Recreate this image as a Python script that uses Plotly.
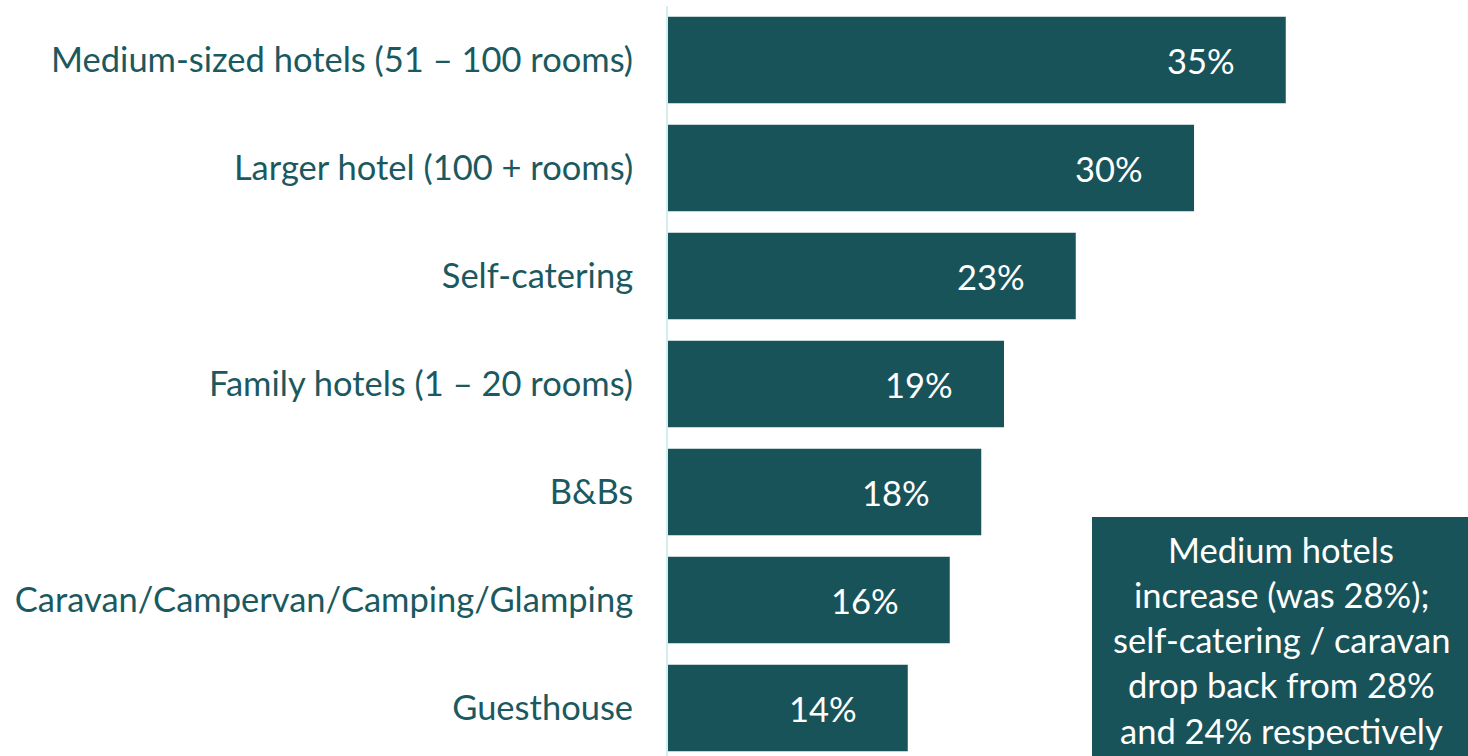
import plotly.graph_objects as go

categories = [
    "Medium-sized hotels (51 – 100 rooms)",
    "Larger hotel (100 + rooms)",
    "Self-catering",
    "Family hotels (1 – 20 rooms)",
    "B&Bs",
    "Caravan/Campervan/Camping/Glamping",
    "Guesthouse",
]
values = [35.3, 30.06, 23.3, 19.2, 17.9, 16.1, 13.7]
value_labels = ["35%", "30%", "23%", "19%", "18%", "16%", "14%"]
note_lines = [
    "Medium hotels",
    "increase (was 28%);",
    "self-catering / caravan",
    "drop back from 28%",
    "and 24% respectively",
]

BAR = "#19535A"
TEXT = "#1B5961"
FONT = "Lato"
FS = 34.5
W, H = 1468, 756
ML, MT = 668, 6
PW, PH = W - ML, H - MT

fig = go.Figure()
fig.add_trace(go.Bar(
    x=values, y=categories, orientation="h",
    marker=dict(color=BAR, line=dict(width=0)),
    hoverinfo="skip",
))

for v, c, t in zip(values, categories, value_labels):
    fig.add_annotation(x=v, y=c, xref="x", yref="y", text=t, showarrow=False,
                       xanchor="center", yanchor="middle", xshift=-85,
                       font=dict(family=FONT, size=FS, color="white"))

# note box
fig.add_shape(type="rect", xref="paper", yref="paper",
              x0=(1092 - ML) / PW, x1=1.0, y0=-0.01, y1=(H - 517) / PH,
              fillcolor=BAR, line=dict(width=0), layer="above")
for i, line in enumerate(note_lines):
    py = 549 + i * 45.3
    fig.add_annotation(x=(1281 - ML) / PW, y=(H - py) / PH, xref="paper", yref="paper",
                       text=line, showarrow=False, xanchor="center", yanchor="middle",
                       font=dict(family=FONT, size=FS, color="white"))

fig.update_layout(
    width=W, height=H,
    margin=dict(l=ML, r=0, t=MT, b=0, pad=0),
    paper_bgcolor="white", plot_bgcolor="white",
    bargap=0.2, showlegend=False,
    font=dict(family=FONT, color=TEXT),
    xaxis=dict(range=[0, PW / 17.5], visible=False, fixedrange=True),
    yaxis=dict(
        type="category", categoryorder="array", categoryarray=categories,
        range=[len(categories) - 0.5 + (PH / 108 - len(categories)), -0.5],
        showline=True, linecolor="#D2EEF1", linewidth=2,
        showgrid=False, zeroline=False,
        ticks="", ticklabelstandoff=26,
        tickfont=dict(family=FONT, size=FS, color=TEXT),
        fixedrange=True,
    ),
)

fig.write_html(
    "out.html",
    config={"displayModeBar": False},
    post_script="document.body.style.margin='0';document.body.style.overflow='hidden';",
)
